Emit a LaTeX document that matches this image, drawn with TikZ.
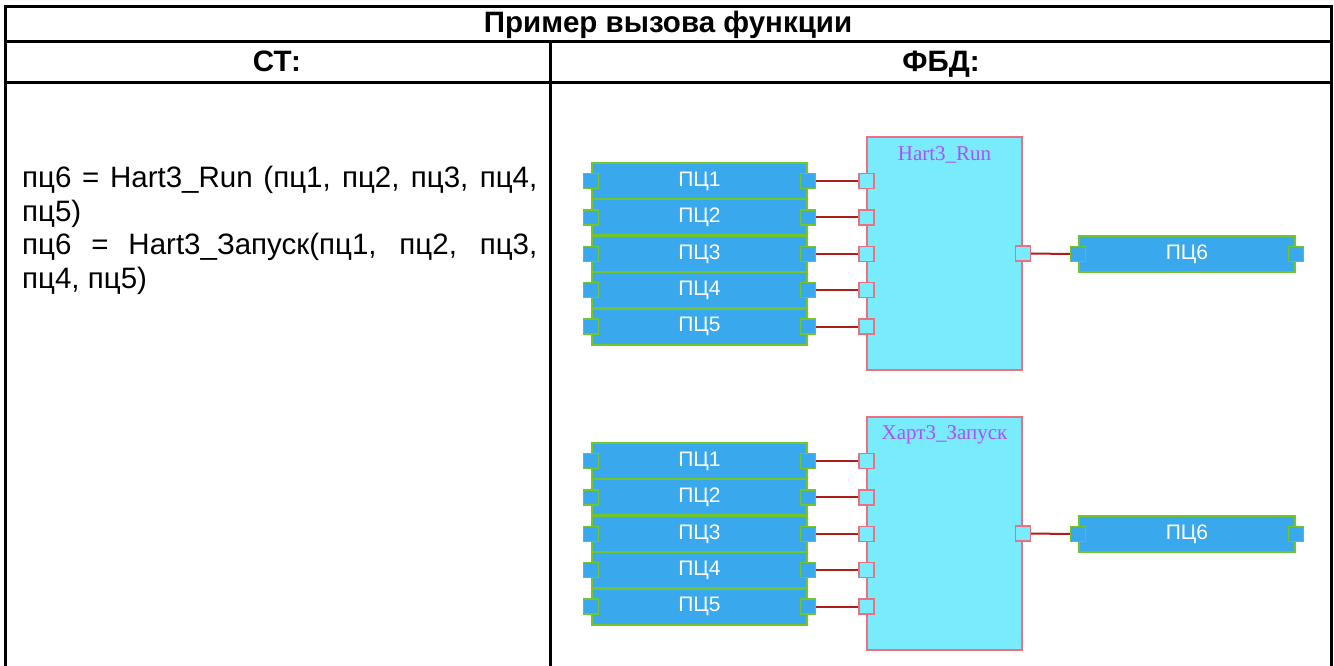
\documentclass[tikz,border=0pt]{standalone}
\usepackage{fontspec}
\setmainfont{Liberation Sans}
\newfontfamily\timesfont{Liberation Serif}
\usepackage{tikz}
\usetikzlibrary{positioning}

\definecolor{varblue}{HTML}{3AA8EC}
\definecolor{vargreen}{HTML}{72C62A}
\definecolor{fbcyan}{HTML}{78ECFC}
\definecolor{fbpink}{HTML}{EE7080}
\definecolor{wirered}{HTML}{B01C1C}
\definecolor{titleviolet}{HTML}{B050F8}

\tikzset{
  varbox/.style={draw=vargreen, fill=varblue, line width=2pt, minimum width=215pt, minimum height=36pt, inner sep=0pt, text=white, font=\fontsize{21}{24}\selectfont},
  vport/.style={draw=vargreen, fill=varblue, line width=1.5pt, minimum size=15pt, inner sep=0pt},
  fbbox/.style={draw=fbpink, fill=fbcyan, line width=1.5pt, minimum width=155pt, minimum height=233pt, inner sep=0pt},
  fport/.style={draw=fbpink, fill=fbcyan, line width=1.5pt, minimum size=15pt, inner sep=0pt},
  fbtitle/.style={text=titleviolet, font=\timesfont\fontsize{21}{24}\selectfont},
  wire/.style={draw=wirered, line width=2pt},
  head/.style={anchor=base, font=\bfseries\fontsize{29.5}{33}\selectfont}
}

\begin{document}
\begin{tikzpicture}[x=1pt, y=-1pt]
  \useasboundingbox (0,0) rectangle (1334,666);

  % Table frame
  \draw[line width=3pt] (5,680) -- (5,7) -- (1331,7) -- (1331,680);
  \draw[line width=3pt] (5,42) -- (1331,42);
  \draw[line width=3pt] (5,83) -- (1331,83);
  \draw[line width=3pt] (550,42) -- (550,680);

  % Headers
  \node[head] (title) at (668,33) {Пример вызова функции};
  \node[head] (st) at (277,72) {СТ:};
  \node[head] (fbd) at (941,72) {ФБД:};

  % ST code
  \node[anchor=north west, inner sep=0pt, text width=515pt, align=justify, font=\fontsize{29.5}{33.5}\selectfont] (code) at (22,166)
    {пц6 = Hart3\_Run (пц1, пц2, пц3, пц4,\linebreak пц5)\\пц6 = Hart3\_Запуск(пц1, пц2, пц3,\linebreak пц4, пц5)};

  % FBD blocks
  \foreach \g/\dy/\fname in {a/0/{Hart3\_Run}, b/280/{Харт3\_Запуск}} {
    \begin{scope}[shift={(0,\dy)}]
      \node[fbbox] (fb\g) at (944.5,253.5) {};
      \node[fbtitle] (ft\g) at (944.5,155) {\fname};
      % inputs
      \foreach \i in {1,...,5} {
        \node[varbox] (v\g\i) at (699.5,{181+36.4*(\i-1)}) {ПЦ\i};
        \node[vport] (vl\g\i) at (v\g\i.west) {};
        \node[vport] (vr\g\i) at (v\g\i.east) {};
        \node[fport] (fi\g\i) at (fb\g.west |- v\g\i) {};
        \draw[wire] (vr\g\i) -- (fi\g\i);
      }
      % output
      \node[fport] (fo\g) at (fb\g.east) {};
      \node[varbox, minimum width=216pt] (out\g) at (1187,254) {ПЦ6};
      \node[vport] (ol\g) at (out\g.west) {};
      \node[vport] (or\g) at (out\g.east) {};
      \draw[wire] (fo\g) -- (ol\g);
    \end{scope}
  }
\end{tikzpicture}
\end{document}
